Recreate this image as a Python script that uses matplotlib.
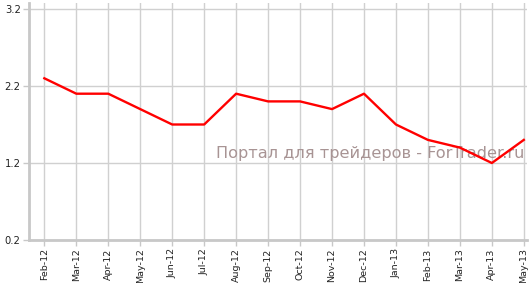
import matplotlib
matplotlib.use('Agg')
import matplotlib.pyplot as plt

plt.rcParams['font.family'] = ['DejaVu Sans']

months = ['Feb-12', 'Mar-12', 'Apr-12', 'May-12', 'Jun-12', 'Jul-12', 'Aug-12', 'Sep-12',
          'Oct-12', 'Nov-12', 'Dec-12', 'Jan-13', 'Feb-13', 'Mar-13', 'Apr-13', 'May-13']
values = [2.3, 2.1, 2.1, 1.9, 1.7, 1.7, 2.1, 2.0, 2.0, 1.9, 2.1, 1.7, 1.5, 1.4, 1.2, 1.5]
y_ticks = [0.2, 1.2, 2.2, 3.2]
watermark = 'Портал для трейдеров - ForTrader.ru'

fig = plt.figure(figsize=(5.3, 2.83), dpi=100)
ax = fig.add_axes([29 / 530, 1 - 240 / 283, (527 - 29) / 530, (240 - 3) / 283])

x = list(range(len(months)))
ax.plot(x, values, color='#ff0000', linewidth=1.7, zorder=3)

ax.set_xlim(-0.48, 15.1)
ax.set_ylim(0.2, 3.2 + 6 / 77)
ax.set_xticks(x)
ax.set_xticklabels(months, rotation=90, fontsize=6.8, color='#222222')
ax.set_yticks(y_ticks)
ax.set_yticklabels([f'{t:.1f}' for t in y_ticks], fontsize=7.2, color='#222222')

ax.grid(True, color='#d0d0d0', linewidth=1)
ax.set_axisbelow(True)
for side in ['top', 'right']:
    ax.spines[side].set_visible(False)
for side in ['left', 'bottom']:
    ax.spines[side].set_color('#c8c8c8')
    ax.spines[side].set_linewidth(2)
ax.tick_params(axis='both', color='#c8c8c8', length=4, width=1, pad=2)

ax.text(0.995, 0.365, watermark, transform=ax.transAxes, ha='right', va='center',
        fontsize=11.6, color='#a89494', zorder=2)

fig.savefig('out.png', dpi=100)
